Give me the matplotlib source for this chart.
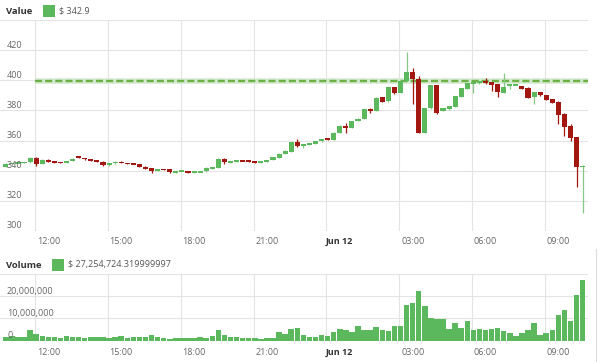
import matplotlib
matplotlib.use("Agg")
import matplotlib.pyplot as plt
from matplotlib.patches import Rectangle
from matplotlib.lines import Line2D

plt.rcParams['font.family'] = ['Open Sans', 'DejaVu Sans']

# ---------------- data ----------------
START_HOUR = 10.25        # first 15-minute candle, hours since Jun 11 00:00
STEP_HOURS = 0.25

OPEN = [342.7, 344.5, 345.0, 345.2, 345.5, 348.7, 344.7, 347.3, 346.3, 345.6,
        345.4, 346.4, 349.3, 348.5, 347.6, 346.7, 346.0, 343.6, 344.8, 346.0,
        345.0, 344.7, 344.5, 342.6, 341.5, 340.0, 340.9, 341.0, 339.0, 339.7,
        339.8, 338.9, 339.1, 339.5, 341.3, 342.0, 348.0, 345.3, 346.2, 346.7,
        346.6, 345.8, 345.5, 346.2, 347.1, 348.5, 351.3, 352.7, 359.3, 356.5,
        357.0, 358.0, 359.5, 361.3, 360.7, 365.3, 370.0, 368.3, 373.0, 374.5,
        381.0, 379.5, 388.9, 386.0, 395.5, 391.8, 399.5, 405.8, 400.7, 365.1,
        381.3, 396.9, 379.5, 380.7, 382.2, 389.1, 394.5, 398.0, 398.0, 399.5,
        398.9, 397.3, 391.8, 396.2, 397.0, 396.2, 395.1, 389.1, 392.2, 390.0,
        387.3, 385.8, 377.8, 369.5, 362.2, 342.5]
CLOSE = [344.5, 345.0, 345.2, 345.8, 348.7, 344.7, 347.2, 346.0, 345.7, 345.4,
         346.4, 348.0, 348.5, 347.6, 346.7, 345.8, 343.6, 344.8, 346.0, 345.0,
         344.7, 344.4, 342.6, 341.5, 340.0, 341.0, 340.7, 339.0, 339.7, 339.8,
         338.8, 339.1, 339.4, 342.0, 342.2, 348.0, 345.7, 346.0, 346.7, 346.5,
         345.8, 345.3, 345.8, 347.1, 348.9, 351.3, 353.3, 359.0, 356.3, 357.2,
         358.0, 359.5, 361.0, 360.5, 365.2, 370.0, 368.3, 373.0, 374.5, 380.7,
         379.5, 388.5, 385.8, 395.5, 391.3, 399.5, 405.3, 400.7, 365.1, 381.3,
         396.9, 378.4, 381.3, 382.9, 389.3, 394.8, 398.0, 398.4, 399.5, 398.0,
         396.7, 392.2, 395.8, 397.3, 397.2, 394.5, 388.5, 392.2, 390.0, 386.9,
         385.1, 376.9, 369.1, 361.8, 342.5, 343.2]
HIGH = [345.0, 345.3, 345.5, 346.0, 349.0, 349.0, 347.5, 347.5, 346.5, 345.8,
        346.6, 348.3, 349.6, 348.7, 347.8, 346.9, 346.2, 345.0, 346.2, 346.2,
        345.2, 344.9, 344.7, 342.8, 341.7, 341.2, 341.1, 341.2, 339.9, 340.0,
        340.0, 339.3, 339.6, 342.2, 342.4, 348.2, 348.2, 346.2, 346.9, 346.9,
        346.8, 346.0, 346.0, 347.3, 349.1, 351.5, 353.5, 359.3, 361.0, 357.5,
        358.3, 359.7, 361.3, 361.5, 365.5, 370.3, 371.8, 373.3, 374.8, 381.0,
        381.5, 388.8, 389.2, 395.8, 395.8, 399.8, 418.5, 408.3, 402.9, 381.6,
        397.2, 397.2, 381.6, 383.2, 389.6, 395.1, 398.3, 398.6, 399.8, 401.8,
        399.1, 397.5, 404.7, 397.5, 397.4, 396.4, 395.3, 392.4, 392.4, 390.2,
        387.5, 386.0, 378.0, 371.0, 362.4, 344.0]
LOW = [342.5, 344.3, 344.8, 345.0, 345.3, 343.3, 344.5, 345.8, 345.3, 345.2,
       345.2, 346.2, 348.2, 347.4, 346.5, 345.6, 343.2, 343.4, 344.6, 344.8,
       344.5, 344.2, 342.4, 341.3, 338.5, 339.8, 340.5, 338.8, 338.8, 339.5,
       338.6, 338.7, 338.9, 339.3, 341.1, 341.8, 344.4, 345.1, 346.0, 346.3,
       345.6, 345.1, 345.3, 346.0, 346.9, 348.3, 351.1, 352.5, 356.0, 355.0,
       356.8, 357.8, 359.3, 360.3, 360.5, 365.1, 364.8, 368.1, 372.8, 374.3,
       378.0, 379.3, 385.5, 385.8, 391.0, 391.5, 399.3, 384.5, 364.9, 364.9,
       381.1, 377.3, 379.3, 380.5, 382.0, 388.9, 394.3, 391.7, 397.8, 397.8,
       393.0, 389.0, 391.6, 394.0, 396.8, 394.3, 388.3, 384.0, 389.8, 386.7,
       384.9, 370.7, 362.9, 359.5, 329.5, 311.8]
VOLUME_M = [1.5, 1.9, 1.7, 1.5, 4.6, 3.1, 2.0, 1.5, 1.5, 1.0,
            2.1, 1.5, 1.6, 1.4, 1.5, 1.6, 1.7, 1.4, 1.6, 2.1,
            1.0, 1.5, 1.5, 1.8, 2.6, 1.5, 1.0, 0.6, 1.0, 1.0,
            1.0, 1.4, 1.5, 1.0, 2.1, 4.8, 2.6, 1.8, 1.5, 1.0,
            1.0, 1.0, 0.8, 1.0, 1.1, 4.1, 3.2, 5.3, 5.6, 2.5,
            1.8, 1.5, 2.5, 2.2, 4.0, 5.2, 4.8, 4.0, 6.6, 4.8,
            4.8, 6.1, 4.8, 4.5, 6.6, 6.6, 16.0, 17.0, 22.2, 15.5,
            10.0, 9.7, 9.6, 5.2, 7.8, 5.8, 8.8, 4.8, 5.2, 4.8,
            5.1, 5.5, 4.3, 3.6, 2.1, 3.3, 4.8, 7.8, 2.5, 3.3,
            4.8, 11.5, 14.0, 8.8, 20.7, 27.254724]

PRICE_TICKS = [300, 320, 340, 360, 380, 400, 420]
VOLUME_TICKS = [0, 10_000_000, 20_000_000]
VOLUME_TICK_LABELS = ['0', '10,000,000', '20,000,000']
XTICK_HOURS = [12, 15, 18, 21, 24, 27, 30, 33]
XTICK_LABELS = ['12:00', '15:00', '18:00', '21:00', 'Jun 12', '03:00', '06:00', '09:00']
LAST_VALUE_TEXT = '$ 342.9'
LAST_VOLUME_TEXT = '$ 27,254,724.319999997'
REFERENCE_LEVEL = 399.6

# ---------------- style ----------------
GREEN = '#5cb85c'
GREEN_WICK = '#86c986'
RED = '#a2170f'
GRID = '#e3e3e3'
LABEL = '#666666'
GRID_SHIFT = 0.55       # grid lines sit a little before the labelled hour
XMIN, XMAX = 10.01, 34.22

times = [START_HOUR + STEP_HOURS * i for i in range(len(OPEN))]
vol = [v * 1e6 for v in VOLUME_M]

W, H = 600, 362
fig = plt.figure(figsize=(6.0, 3.62), dpi=100)
ax1 = fig.add_axes([0, 131 / H, 588 / W, 211 / H])
ax2 = fig.add_axes([0, 21.3 / H, 588 / W, 66.7 / H])

grid_pos = [h - GRID_SHIFT for h in XTICK_HOURS]
for ax in (ax1, ax2):
    ax.set_xlim(XMIN, XMAX)
    for s in ax.spines.values():
        s.set_visible(False)
    ax.set_xticks(grid_pos)
    ax.set_xticklabels([''] * len(grid_pos))
    ax.set_xticks(XTICK_HOURS, minor=True)
    ax.set_xticklabels(XTICK_LABELS, minor=True)
    ax.tick_params(axis='both', which='both', length=0, labelleft=False)
    ax.tick_params(axis='x', which='minor', labelsize=6.5, labelcolor=LABEL)
    ax.grid(True, which='major', color=GRID, lw=0.8, zorder=0)
    ax.set_axisbelow(True)
    for lab, txt in zip(ax.get_xticklabels(minor=True), XTICK_LABELS):
        if txt == 'Jun 12':
            lab.set_fontweight('bold')
            lab.set_color('#333333')

ax1.tick_params(axis='x', which='minor', pad=4.0)
ax2.tick_params(axis='x', which='minor', pad=5.0)

# ---------------- price panel ----------------
ax1.set_ylim(300, 440)
ax1.set_yticks(list(range(300, 441, 20)))

ax1.hlines(REFERENCE_LEVEL, grid_pos[0], XMAX, color='#d3ead0', lw=4.0, zorder=1.5)
ax1.hlines(REFERENCE_LEVEL, grid_pos[0], XMAX, color='#6cb046', lw=1.7,
           linestyles=(0, (3.0, 1.3)), zorder=1.6)

min_body = 1.2
for t, o, c, hi, lo in zip(times, OPEN, CLOSE, HIGH, LOW):
    up = c >= o
    col = GREEN if up else RED
    ax1.vlines(t, lo, hi, color=GREEN_WICK if up else RED, lw=0.9, zorder=2)
    height = max(abs(c - o), min_body)
    bottom = (o + c) / 2 - height / 2
    ax1.bar(t, height, bottom=bottom, width=0.21, color=col, lw=0, zorder=3)

for v in PRICE_TICKS:
    ax1.annotate(str(v), xy=(0, v), xycoords=('axes fraction', 'data'),
                 xytext=(7, 0.5), textcoords='offset pixels', ha='left', va='bottom',
                 fontsize=6.5, color=LABEL, zorder=4)

# ---------------- volume panel ----------------
ax2.set_ylim(0, 30_000_000)
ax2.set_yticks([0, 10_000_000, 20_000_000, 30_000_000])
ax2.bar(times, vol, width=0.225, color=GREEN, lw=0, zorder=3)
for v, txt in zip(VOLUME_TICKS, VOLUME_TICK_LABELS):
    ax2.annotate(txt, xy=(0, v), xycoords=('axes fraction', 'data'),
                 xytext=(7, 0.5), textcoords='offset pixels', ha='left', va='bottom',
                 fontsize=6.5, color=LABEL, zorder=4)

# ---------------- legends ----------------
def legend(y_px, title, x_sw, text):
    fig.text(6 / W, 1 - y_px / H, title, fontsize=6.8, fontweight='bold',
             color='#333333', va='center', ha='left')
    fig.add_artist(Rectangle((x_sw / W, 1 - (y_px + 6) / H), 12 / W, 12 / H,
                             transform=fig.transFigure, facecolor=GREEN, edgecolor='none'))
    fig.text((x_sw + 16) / W, 1 - y_px / H, text, fontsize=6.5, color='#555555',
             va='center', ha='left')

legend(11, 'Value', 43, LAST_VALUE_TEXT)
legend(265, 'Volume', 52, LAST_VOLUME_TEXT)

fig.add_artist(Line2D([596 / W, 596 / W], [0, 1 - 249 / H], transform=fig.transFigure,
                      color='#dddddd', lw=0.8))

fig.savefig('out.png', dpi=100, facecolor='white')
